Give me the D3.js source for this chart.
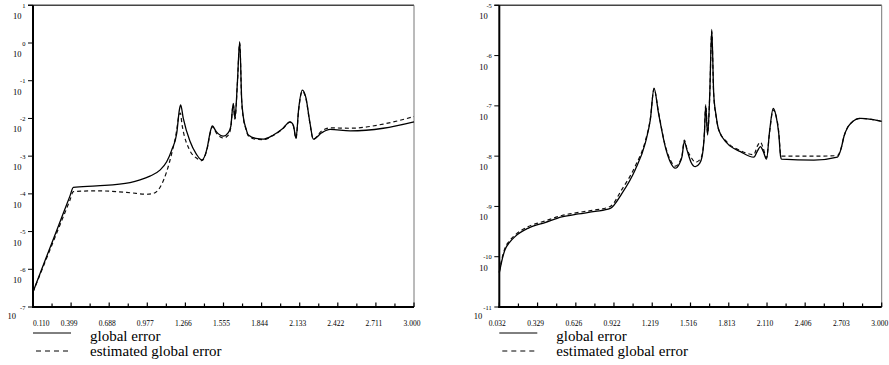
<!DOCTYPE html>
<html>
<head>
<meta charset="utf-8">
<script src="https://cdn.jsdelivr.net/npm/d3@7/dist/d3.min.js"></script>
<style>
  html, body { margin: 0; padding: 0; background: #fff; }
  svg { display: block; }
</style>
</head>
<body>
<svg id="chart" width="889" height="365" font-family="'Liberation Serif', 'DejaVu Serif', 'Times New Roman', serif"></svg>
<script>
// ---------- data (values are log10 of the error) ----------
const leftXTicks = [0.110, 0.399, 0.688, 0.977, 1.266, 1.555, 1.844, 2.133, 2.422, 2.711, 3.000];
const leftYTicks = [1, 0, -1, -2, -3, -4, -5, -6, -7];

const leftGlobalX = [0.110, 0.200, 0.300, 0.390, 0.416, 0.593, 0.846, 0.922, 0.997, 1.073, 1.124, 1.162, 1.200, 1.220, 1.230, 1.250, 1.300, 1.350, 1.390, 1.430, 1.455, 1.470, 1.500, 1.554, 1.590, 1.610, 1.629, 1.642, 1.660, 1.678, 1.693, 1.705, 1.725, 1.743, 1.800, 1.857, 1.933, 2.000, 2.060, 2.085, 2.105, 2.125, 2.153, 2.180, 2.210, 2.236, 2.300, 2.363, 2.515, 2.767, 3.000];
const leftGlobalY = [-6.60, -5.78, -4.88, -4.06, -3.83, -3.79, -3.70, -3.63, -3.53, -3.37, -3.15, -2.84, -2.40, -1.78, -1.64, -2.00, -2.60, -2.95, -3.10, -2.80, -2.35, -2.20, -2.35, -2.47, -2.38, -2.22, -1.60, -2.00, -1.07, 0.035, -1.51, -1.95, -2.26, -2.44, -2.53, -2.55, -2.44, -2.28, -2.09, -2.18, -2.53, -1.75, -1.25, -1.45, -2.10, -2.55, -2.38, -2.29, -2.33, -2.26, -2.09];

const leftEstX = [0.110, 0.200, 0.300, 0.390, 0.416, 0.593, 0.846, 0.972, 1.022, 1.073, 1.124, 1.162, 1.200, 1.215, 1.228, 1.240, 1.300, 1.350, 1.390, 1.430, 1.455, 1.470, 1.500, 1.554, 1.590, 1.610, 1.629, 1.642, 1.660, 1.678, 1.693, 1.705, 1.725, 1.743, 1.800, 1.857, 1.933, 2.000, 2.060, 2.085, 2.105, 2.125, 2.153, 2.180, 2.210, 2.236, 2.300, 2.363, 2.515, 2.767, 3.000];
const leftEstY = [-6.60, -5.82, -4.95, -4.17, -3.94, -3.92, -3.97, -4.01, -3.99, -3.83, -3.41, -2.93, -2.31, -1.95, -1.86, -2.15, -2.85, -3.05, -3.12, -2.82, -2.38, -2.22, -2.38, -2.52, -2.45, -2.25, -1.62, -2.02, -1.10, 0.00, -1.55, -1.98, -2.28, -2.46, -2.55, -2.56, -2.45, -2.29, -2.10, -2.20, -2.53, -1.78, -1.28, -1.47, -2.12, -2.55, -2.33, -2.25, -2.26, -2.15, -1.95];

const rightXTicks = [0.032, 0.329, 0.626, 0.922, 1.219, 1.516, 1.813, 2.110, 2.406, 2.703, 3.000];
const rightYTicks = [-5, -6, -7, -8, -9, -10, -11];

const rightX = [0.032, 0.050, 0.076, 0.110, 0.154, 0.258, 0.387, 0.517, 0.646, 0.776, 0.893, 0.984, 1.087, 1.165, 1.204, 1.233, 1.268, 1.320, 1.360, 1.398, 1.430, 1.450, 1.468, 1.489, 1.520, 1.554, 1.585, 1.606, 1.624, 1.634, 1.649, 1.665, 1.681, 1.696, 1.715, 1.735, 1.800, 1.904, 2.007, 2.035, 2.059, 2.080, 2.106, 2.130, 2.158, 2.180, 2.201, 2.215, 2.222, 2.474, 2.656, 2.685, 2.707, 2.735, 2.759, 2.800, 2.837, 2.920, 3.000];
const rightGlobalY = [-10.32, -10.10, -9.86, -9.72, -9.60, -9.43, -9.32, -9.21, -9.15, -9.10, -9.04, -8.74, -8.27, -7.74, -7.28, -6.65, -7.15, -7.81, -8.12, -8.24, -8.15, -8.01, -7.71, -7.88, -8.12, -8.21, -8.15, -8.01, -7.55, -7.00, -7.58, -6.80, -5.48, -6.75, -7.20, -7.48, -7.74, -7.91, -8.02, -7.90, -7.81, -7.90, -8.06, -7.50, -7.05, -7.20, -7.55, -8.00, -8.06, -8.08, -8.02, -7.85, -7.61, -7.43, -7.35, -7.27, -7.25, -7.27, -7.31];
const rightEstY = [-10.30, -10.07, -9.83, -9.69, -9.57, -9.40, -9.29, -9.18, -9.12, -9.07, -9.00, -8.66, -8.20, -7.70, -7.26, -6.66, -7.13, -7.79, -8.08, -8.20, -8.12, -7.99, -7.68, -7.86, -8.02, -8.12, -8.08, -7.97, -7.52, -6.98, -7.55, -6.82, -5.52, -6.78, -7.22, -7.47, -7.72, -7.89, -7.97, -7.80, -7.72, -7.84, -8.03, -7.52, -7.08, -7.20, -7.52, -7.96, -8.00, -8.00, -7.99, -7.84, -7.61, -7.43, -7.35, -7.27, -7.25, -7.27, -7.31];

const legendLabels = ["global error", "estimated global error"];

// ---------- drawing ----------
const svg = d3.select("#chart");

function panel(cfg) {
  const g = svg.append("g");
  const x = d3.scaleLinear().domain([cfg.xTicks[0], cfg.xTicks[cfg.xTicks.length - 1]]).range([cfg.x0, cfg.x1]);
  const y = d3.scaleLinear().domain([cfg.yTicks[cfg.yTicks.length - 1], cfg.yTicks[0]]).range([cfg.y1, cfg.y0]);

  // frame: top and right
  g.append("line").attr("x1", cfg.x0 - 5).attr("x2", cfg.x1).attr("y1", cfg.y0).attr("y2", cfg.y0)
    .attr("stroke", "#444").attr("stroke-width", 1.6);
  g.append("line").attr("x1", cfg.x1).attr("x2", cfg.x1).attr("y1", cfg.y0).attr("y2", cfg.y1)
    .attr("stroke", "#777").attr("stroke-width", 1);

  // curves
  const line = (xs) => d3.line().x((d, i) => x(xs[i])).y(d => y(d)).curve(d3.curveMonotoneX);
  g.append("path").datum(cfg.est).attr("d", line(cfg.estX))
    .attr("fill", "none").attr("stroke", "#111").attr("stroke-width", 1.2).attr("stroke-dasharray", "4,3");
  g.append("path").datum(cfg.glob).attr("d", line(cfg.globX))
    .attr("fill", "none").attr("stroke", "#000").attr("stroke-width", 1.3);

  // y axis (left) with decade ticks outward
  g.append("line").attr("x1", cfg.x0).attr("x2", cfg.x0).attr("y1", cfg.y0).attr("y2", cfg.y1 + 1)
    .attr("stroke", "#000").attr("stroke-width", 2);
  cfg.yTicks.forEach((t, i) => {
    const yy = y(t);
    g.append("line").attr("x1", cfg.x0 - 5).attr("x2", cfg.x0).attr("y1", yy).attr("y2", yy)
      .attr("stroke", "#000").attr("stroke-width", 1);
    g.append("text").attr("x", cfg.x0 - 7.5).attr("y", yy + 2.5).attr("text-anchor", "end")
      .attr("font-size", 6.5).attr("fill", "#000").text(String(t));
    const last = i === cfg.yTicks.length - 1;
    g.append("text").attr("x", cfg.x0 - (last ? 17 : 11.5)).attr("y", yy + (last ? 11.5 : 14))
      .attr("text-anchor", "end").attr("font-size", 8.5).attr("fill", "#000").text("10");
  });

  // x axis (bottom) with inward ticks
  g.append("line").attr("x1", cfg.x0 - 1).attr("x2", cfg.x1).attr("y1", cfg.y1).attr("y2", cfg.y1)
    .attr("stroke", "#000").attr("stroke-width", 2);
  const n = cfg.xTicks.length;
  for (let i = 0; i < n; i++) {
    const xx = x(cfg.xTicks[i]);
    g.append("line").attr("x1", xx).attr("x2", xx).attr("y1", cfg.y1).attr("y2", cfg.y1 - 4.5)
      .attr("stroke", "#000").attr("stroke-width", 1.2);
    if (i < n - 1) {
      const xm = (xx + x(cfg.xTicks[i + 1])) / 2;
      g.append("line").attr("x1", xm).attr("x2", xm).attr("y1", cfg.y1).attr("y2", cfg.y1 - 3.5)
        .attr("stroke", "#000").attr("stroke-width", 1.2);
    }
    const first = i === 0 && cfg.firstStart;
    g.append("text").attr("x", first ? xx : xx - 2).attr("y", cfg.y1 + 18.5)
      .attr("text-anchor", first ? "start" : "middle").attr("font-size", 7.5).attr("fill", "#000")
      .text(d3.format(".3f")(cfg.xTicks[i]));
  }

  // legend
  const lx0 = cfg.x0, lx1 = cfg.x0 + 38;
  g.append("line").attr("x1", lx0).attr("x2", lx1).attr("y1", 333).attr("y2", 333)
    .attr("stroke", "#000").attr("stroke-width", 1);
  g.append("line").attr("x1", lx0 + 3).attr("x2", lx1).attr("y1", 351).attr("y2", 351)
    .attr("stroke", "#000").attr("stroke-width", 1).attr("stroke-dasharray", "5,4");
  g.append("text").attr("x", lx1 + 19).attr("y", 340.5).attr("font-size", 15).attr("fill", "#000").text(legendLabels[0]);
  g.append("text").attr("x", lx1 + 19).attr("y", 356).attr("font-size", 15).attr("fill", "#000").text(legendLabels[1]);
}

panel({ x0: 33, x1: 414, y0: 5.3, y1: 307, xTicks: leftXTicks, yTicks: leftYTicks,
  globX: leftGlobalX, glob: leftGlobalY, estX: leftEstX, est: leftEstY, firstStart: true });
panel({ x0: 499.3, x1: 881.7, y0: 5.3, y1: 307, xTicks: rightXTicks, yTicks: rightYTicks,
  globX: rightX, glob: rightGlobalY, estX: rightX, est: rightEstY, firstStart: false });
</script>
</body>
</html>
